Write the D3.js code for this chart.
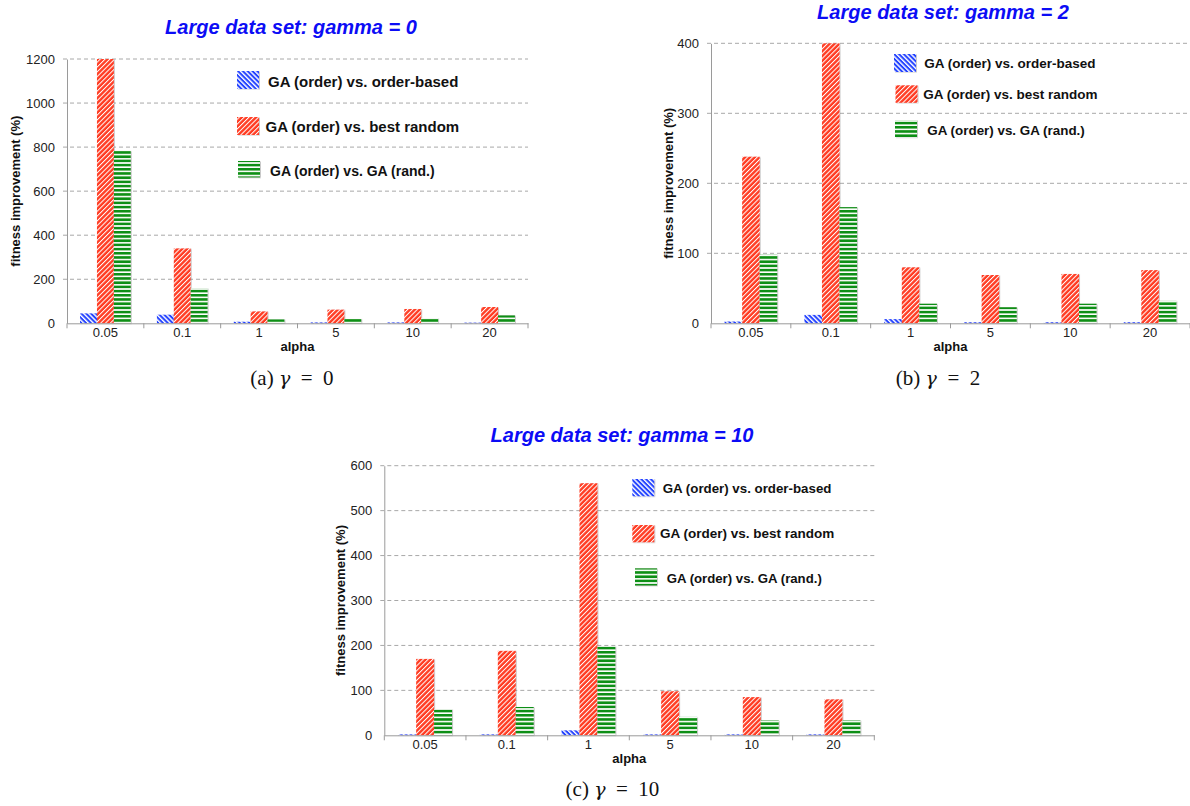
<!DOCTYPE html>
<html>
<head>
<meta charset="utf-8">
<script src="https://cdn.jsdelivr.net/npm/d3@7/dist/d3.min.js"></script>
<style>
  html, body { margin: 0; padding: 0; background: #fff; }
  svg { display: block; }
</style>
</head>
<body>
<script>
// Alpha values on the x axis (shared by all three panels)
const alphaLabels = ["0.05", "0.1", "1", "5", "10", "20"];
const seriesNames = [
  "GA (order) vs. order-based",
  "GA (order) vs. best random",
  "GA (order) vs. GA (rand.)"
];

// gamma = 0
const gamma0OrderBased = [45, 39, 7, 4, 4, 3];
const gamma0BestRandom = [1200, 340, 54, 62, 65, 74];
const gamma0GaRand     = [783, 159, 18, 20, 23, 36];
const gamma0Ticks      = [0, 200, 400, 600, 800, 1000, 1200];

// gamma = 2
const gamma2OrderBased = [2.5, 12, 6, 1.5, 1.5, 1.5];
const gamma2BestRandom = [238, 400, 80, 69, 70.5, 76];
const gamma2GaRand     = [98, 166, 28, 23, 28, 32];
const gamma2Ticks      = [0, 100, 200, 300, 400];

// gamma = 10
const gamma10OrderBased = [2, 2, 11, 2, 2, 2];
const gamma10BestRandom = [170, 188, 561, 98, 85, 80];
const gamma10GaRand     = [58, 63, 198, 41, 33, 33];
const gamma10Ticks      = [0, 100, 200, 300, 400, 500, 600];

const W = 1190, H = 806;
const sans = "'Liberation Sans', Arial, Helvetica, sans-serif";
const serif = "'Liberation Serif', 'Times New Roman', serif";

const svg = d3.select("body").append("svg")
  .attr("width", W).attr("height", H)
  .attr("viewBox", `0 0 ${W} ${H}`);

const defs = svg.append("defs");

// Hatch fills for the three series
function stripePattern(id, bg, line, lineW, period, angle) {
  const p = defs.append("pattern")
    .attr("id", id)
    .attr("patternUnits", "userSpaceOnUse")
    .attr("width", period).attr("height", period)
    .attr("patternTransform", `rotate(${angle})`);
  p.append("rect").attr("width", period).attr("height", period).attr("fill", bg);
  p.append("rect").attr("x", 0).attr("y", 0)
    .attr("width", period).attr("height", lineW).attr("fill", line);
}
stripePattern("hatchBlue", "#ffffff", "#2443ff", 2.0, 3.4, 45);
stripePattern("hatchRed", "#ff3b22", "#ffffff", 1.0, 3.4, -45);
stripePattern("hatchGreen", "#ffffff", "#0f8f12", 2.6, 4.2, 0);

const fills = ["url(#hatchBlue)", "url(#hatchRed)", "url(#hatchGreen)"];

const shadow = defs.append("filter").attr("id", "barShadow")
  .attr("x", "-20%").attr("y", "-5%").attr("width", "140%").attr("height", "110%");
shadow.append("feDropShadow")
  .attr("dx", 1).attr("dy", 0.5).attr("stdDeviation", 0.6)
  .attr("flood-color", "#888").attr("flood-opacity", 0.45);

function drawPanel(cfg) {
  const g = svg.append("g");
  const series = cfg.series;

  const y = d3.scaleLinear().domain([0, cfg.max]).range([cfg.bottom, cfg.top]);
  const x = d3.scaleBand().domain(alphaLabels).range([cfg.left, cfg.right]);
  const xs = d3.scaleBand().domain(d3.range(series.length))
    .range([x.bandwidth() * 0.17, x.bandwidth() * 0.83]);

  // dashed horizontal grid
  g.append("g").selectAll("line")
    .data(cfg.ticks.filter(t => t > 0))
    .join("line")
    .attr("x1", cfg.left - 4).attr("x2", cfg.right)
    .attr("y1", d => y(d)).attr("y2", d => y(d))
    .attr("stroke", "#a8a8a8").attr("stroke-width", 1)
    .attr("stroke-dasharray", "4,3");

  // bars
  series.forEach((vals, si) => {
    g.append("g").selectAll("rect")
      .data(vals)
      .join("rect")
      .attr("x", (d, i) => x(alphaLabels[i]) + xs(si))
      .attr("width", xs.bandwidth())
      .attr("y", d => y(d))
      .attr("height", d => y(0) - y(d))
      .attr("fill", fills[si])
      .attr("filter", "url(#barShadow)");
  });

  // y axis
  const yAxis = g.append("g")
    .attr("transform", `translate(${cfg.left},0)`)
    .call(d3.axisLeft(y).tickValues(cfg.ticks).tickFormat(d3.format("d"))
      .tickSize(0).tickPadding(12).tickSizeOuter(0));
  yAxis.select(".domain").attr("stroke", "#9a9a9a");
  yAxis.selectAll("text")
    .attr("font-family", sans).attr("font-size", 13).attr("fill", "#222");

  // x axis
  const xAxis = g.append("g")
    .attr("transform", `translate(0,${cfg.bottom})`)
    .call(d3.axisBottom(x).tickSize(0).tickPadding(4.5).tickSizeOuter(0));
  xAxis.select(".domain").attr("stroke", "#9a9a9a");
  xAxis.selectAll("text")
    .attr("font-family", sans).attr("font-size", 13).attr("fill", "#222");
  xAxis.append("g").selectAll("line")
    .data(d3.range(alphaLabels.length + 1))
    .join("line")
    .attr("x1", i => cfg.left + i * x.step()).attr("x2", i => cfg.left + i * x.step())
    .attr("y1", 0).attr("y2", 5)
    .attr("stroke", "#9a9a9a");

  // axis titles
  g.append("text")
    .attr("x", (cfg.left + cfg.right) / 2).attr("y", cfg.bottom + 28)
    .attr("text-anchor", "middle")
    .attr("font-family", sans).attr("font-size", 13).attr("font-weight", "bold")
    .attr("fill", "#111")
    .text("alpha");
  g.append("text")
    .attr("transform", `translate(${cfg.left - cfg.yTitleOffset},${(cfg.top + cfg.bottom) / 2}) rotate(-90)`)
    .attr("text-anchor", "middle").attr("dy", "0.35em")
    .attr("font-family", sans).attr("font-size", 13).attr("font-weight", "bold")
    .attr("fill", "#111")
    .text("fitness improvement (%)");

  // chart title
  g.append("text")
    .attr("x", cfg.titleX).attr("y", cfg.titleY).attr("dy", "0.35em")
    .attr("text-anchor", "middle")
    .attr("font-family", sans).attr("font-size", 20)
    .attr("font-weight", "bold").attr("font-style", "italic")
    .attr("fill", "#0c0cf5")
    .text(cfg.title);

  // legend
  const lg = g.append("g");
  seriesNames.forEach((name, i) => {
    const L = cfg.legend[i];
    lg.append("rect")
      .attr("x", L.sx).attr("y", L.sy).attr("width", 22).attr("height", L.sh)
      .attr("fill", fills[i]).attr("filter", "url(#barShadow)");
    lg.append("text")
      .attr("x", L.tx).attr("y", L.ty).attr("dy", "0.35em")
      .attr("font-family", sans).attr("font-size", L.fs).attr("font-weight", "bold")
      .attr("fill", "#111")
      .text(name);
  });

  // caption below the panel
  const cap = g.append("text")
    .attr("x", cfg.capX).attr("y", cfg.capY).attr("dy", "0.35em")
    .attr("text-anchor", "middle")
    .attr("font-family", serif).attr("font-size", 21).attr("fill", "#111")
    .attr("xml:space", "preserve");
  cap.append("tspan").text(cfg.capLetter + "\u00a0");
  cap.append("tspan").attr("font-style", "italic").attr("font-family", "'DejaVu Serif', serif")
    .attr("font-size", 19).text("\u03b3");
  cap.append("tspan").text("\u2002=\u2002" + cfg.capValue);
}

drawPanel({
  series: [gamma0OrderBased, gamma0BestRandom, gamma0GaRand],
  ticks: gamma0Ticks, max: 1200,
  left: 67, right: 528, top: 59, bottom: 323.3, yTitleOffset: 52,
  title: "Large data set: gamma = 0", titleX: 291, titleY: 27,
  capLetter: "(a)", capValue: "0", capX: 292, capY: 378,
  legend: [
    { sx: 237, sy: 71, sh: 18, tx: 268, ty: 82, fs: 15 },
    { sx: 237, sy: 117, sh: 18, tx: 265.5, ty: 126.7, fs: 15 },
    { sx: 238, sy: 161, sh: 16.5, tx: 270, ty: 171, fs: 14 }
  ]
});

drawPanel({
  series: [gamma2OrderBased, gamma2BestRandom, gamma2GaRand],
  ticks: gamma2Ticks, max: 400,
  left: 711, right: 1190, top: 43.3, bottom: 323.3, yTitleOffset: 43,
  title: "Large data set: gamma = 2", titleX: 943, titleY: 12,
  capLetter: "(b)", capValue: "2", capX: 938, capY: 378,
  legend: [
    { sx: 894, sy: 54, sh: 18, tx: 924.3, ty: 63.3, fs: 13.5 },
    { sx: 895.5, sy: 85.3, sh: 17.5, tx: 923.3, ty: 94, fs: 13.5 },
    { sx: 895, sy: 120, sh: 17.3, tx: 927.3, ty: 130.7, fs: 13.4 }
  ]
});

drawPanel({
  series: [gamma10OrderBased, gamma10BestRandom, gamma10GaRand],
  ticks: gamma10Ticks, max: 600,
  left: 384.3, right: 874.3, top: 465.7, bottom: 735.3, yTitleOffset: 44,
  title: "Large data set: gamma = 10", titleX: 622, titleY: 435,
  capLetter: "(c)", capValue: "10", capX: 612.5, capY: 789,
  legend: [
    { sx: 632.3, sy: 479, sh: 17.3, tx: 662.7, ty: 488, fs: 13.3 },
    { sx: 632.3, sy: 525, sh: 17.3, tx: 660, ty: 533.3, fs: 13.5 },
    { sx: 635, sy: 568.3, sh: 17.3, tx: 666.7, ty: 578.3, fs: 13.2 }
  ]
});
</script>
</body>
</html>
